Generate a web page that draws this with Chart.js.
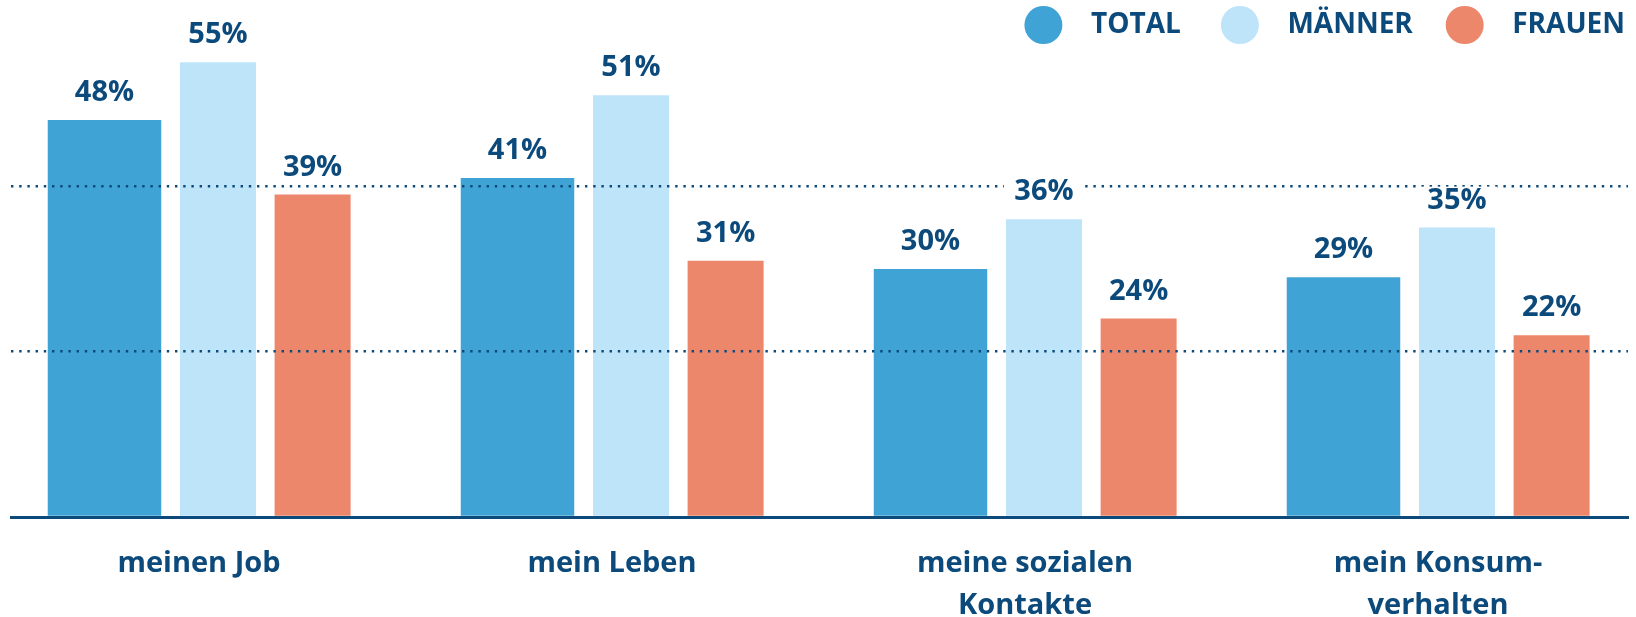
<!DOCTYPE html>
<html>
<head>
<meta charset="utf-8">
<script src="https://cdn.jsdelivr.net/npm/chart.js@4.4.1/dist/chart.umd.min.js"></script>
<style>
  html, body { margin: 0; padding: 0; background: #fff; }
  #wrap { width: 1636px; height: 617px; position: relative; }
</style>
</head>
<body>
<div id="wrap"><canvas id="chart"></canvas></div>
<script>
// data
const categories = ['meinen Job', 'mein Leben', ['meine sozialen', 'Kontakte'], ['mein Konsum-', 'verhalten']];
const seriesNames = ['TOTAL', 'MÄNNER', 'FRAUEN'];
const totalValues = [48, 41, 30, 29];
const maennerValues = [55, 51, 36, 35];
const frauenValues = [39, 31, 24, 22];
const gridTicks = [20, 40];

const darkBlue = '#0c4a7c';
const colors = ['#40a3d6', '#bde4f9', '#ec876c'];
const FONT = '"Open Sans", "DejaVu Sans", sans-serif';

function points(values) {
    return values.map(function(v, i) { return { x: i, y: v }; });
}

// labels above bars, with white box behind (hides the dotted line)
const barLabels = {
    id: 'barLabels',
    afterDraw: function(chart) {
        const ctx = chart.ctx;
        ctx.save();
        ctx.font = 'bold 29px ' + FONT;
        ctx.textAlign = 'center';
        ctx.textBaseline = 'alphabetic';
        chart.data.datasets.forEach(function(ds, i) {
            chart.getDatasetMeta(i).data.forEach(function(bar, j) {
                const w = bar.width + 4;
                ctx.fillStyle = '#fff';
                ctx.fillRect(bar.x - w / 2, bar.y - 41, w, 27);
                ctx.fillStyle = darkBlue;
                ctx.fillText(ds.data[j].y + '%', bar.x, bar.y - 19);
            });
        });
        ctx.restore();
    }
};

// spaces to push legend text away from the dots
const legendGaps = ['    ', '   ', ''];

const ctx = document.getElementById('chart').getContext('2d');
const chart = new Chart(ctx, {
    type: 'bar',
    data: {
        datasets: [{
            label: seriesNames[0],
            data: points(totalValues),
            backgroundColor: colors[0],
            categoryPercentage: 0.8245,
            barPercentage: 1.0
        }, {
            label: seriesNames[1],
            data: points(maennerValues),
            backgroundColor: colors[1],
            categoryPercentage: 0.6872,
            barPercentage: 0.8034
        }, {
            label: seriesNames[2],
            data: points(frauenValues),
            backgroundColor: colors[2],
            categoryPercentage: 0.6872,
            barPercentage: 0.8034
        }]
    },
    options: {
        responsive: true,
        maintainAspectRatio: false,
        animation: false,
        layout: { padding: { top: 0, left: 11, right: 0, bottom: -35 } },
        plugins: {
            tooltip: { enabled: false },
            legend: {
                position: 'top',
                align: 'end',
                labels: {
                    usePointStyle: true,
                    pointStyle: 'circle',
                    pointStyleWidth: 38,
                    boxHeight: 27,
                    padding: 11,
                    color: darkBlue,
                    font: { family: FONT, size: 28, weight: 'bold' },
                    generateLabels: function(chart) {
                        const items = Chart.defaults.plugins.legend.labels.generateLabels(chart);
                        items.forEach(function(item, i) {
                            item.text = '  ' + item.text + legendGaps[i];
                        });
                        return items;
                    }
                }
            }
        },
        scales: {
            x: {
                type: 'linear',
                min: -0.5012,
                max: 3.414,
                offset: false,
                grid: { display: false, drawTicks: false, offset: false },
                border: { color: darkBlue, width: 3, z: 1 },
                ticks: {
                    stepSize: 1,
                    includeBounds: false,
                    autoSkip: false,
                    maxRotation: 0,
                    labelOffset: -19,
                    padding: 26,
                    color: darkBlue,
                    font: { family: FONT, size: 29, weight: 'bold', lineHeight: 1.43 },
                    callback: function(value) { return categories[value]; }
                }
            },
            y: {
                position: 'right',
                min: 0,
                max: 56.6,
                afterFit: function(scale) { scale.width = 8; },
                grid: {
                    z: 1,
                    drawTicks: false,
                    lineWidth: 2.4,
                    color: function(c) {
                        return gridTicks.indexOf(c.tick.value) >= 0 ? darkBlue : 'rgba(0,0,0,0)';
                    }
                },
                border: { display: false, dash: [2.4, 5.8] },
                ticks: { display: false, stepSize: 20, includeBounds: false }
            }
        }
    },
    plugins: [barLabels]
});
</script>
</body>
</html>
